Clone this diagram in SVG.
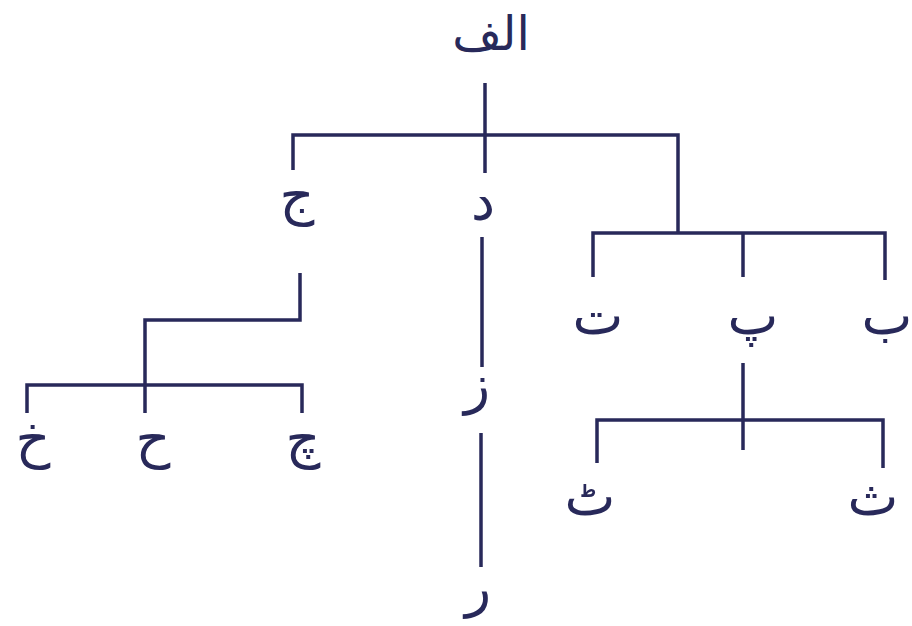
<svg xmlns="http://www.w3.org/2000/svg" width="912" height="626" viewBox="0 0 912 626">
<style>
.c{fill:none;stroke:#28295a;stroke-width:3.5;stroke-linecap:butt;stroke-linejoin:miter}
.t{font-family:"DejaVu Sans",sans-serif;font-size:54px;fill:#28295a;text-anchor:middle}
.h{font-size:48px}
</style>
<rect width="912" height="626" fill="#ffffff"/>
<g id="connectors">
<path class="c" d="M485 83V173"/>
<path class="c" d="M293 170V135H678V233"/>
<path class="c" d="M593 277V233H885V280"/>
<path class="c" d="M743 233V277"/>
<path class="c" d="M482 237V367"/>
<path class="c" d="M481 433V567"/>
<path class="c" d="M743 363V450"/>
<path class="c" d="M597 463V420H883V468"/>
<path class="c" d="M300 273V320H145V413"/>
<path class="c" d="M27 413V385H302V413"/>
</g>
<g id="n-alef"><text class="t h" x="491" y="50">الف</text></g>
<g id="n-jim"><text class="t" x="297" y="214">ج</text></g>
<g id="n-dal"><text class="t" x="483" y="220">د</text></g>
<g id="n-te"><text class="t" x="598" y="334">ت</text></g>
<g id="n-pe"><text class="t" x="753" y="334">پ</text></g>
<g id="n-be"><text class="t" x="887" y="334">ب</text></g>
<g id="n-ze"><text class="t" x="477" y="403">ز</text></g>
<g id="n-re"><text class="t" x="478" y="606">ر</text></g>
<g id="n-tte"><text class="t" x="590" y="515">ٹ</text></g>
<g id="n-se"><text class="t" x="873" y="515">ث</text></g>
<g id="n-khe"><text class="t" x="33" y="457">خ</text></g>
<g id="n-he"><text class="t" x="153" y="457">ح</text></g>
<g id="n-che"><text class="t" x="303" y="457">چ</text></g>
</svg>
